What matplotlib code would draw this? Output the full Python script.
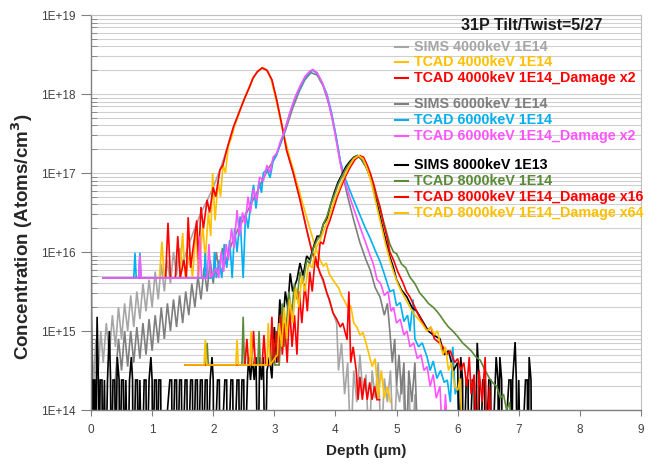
import matplotlib
matplotlib.use("Agg")
import matplotlib.pyplot as plt
import numpy as np
from matplotlib.ticker import FixedLocator, FuncFormatter, NullFormatter
from matplotlib.lines import Line2D

plt.rcParams['font.family'] = ['Liberation Sans', 'DejaVu Sans']

# ---------------- data (depth in um, log10 concentration) ----------------
sims4000_x = [0.00, 0.04, 0.08, 0.12, 0.16, 0.20, 0.25, 0.30, 0.35, 0.40, 0.45, 0.50, 0.55, 0.60, 0.65, 0.70,
              0.75, 0.80, 0.85, 0.90, 0.95, 1.00, 1.05, 1.10, 1.15, 1.20, 1.25, 1.30, 1.35, 1.40, 1.45, 1.50,
              1.60, 1.70, 1.80, 1.90, 2.00, 2.11, 2.22, 2.33, 2.44, 2.55, 2.65, 2.72, 2.80, 2.88, 2.96, 3.04,
              3.13, 3.20, 3.31, 3.42, 3.53, 3.62, 3.75, 3.86, 3.96, 4.02, 4.05, 4.10, 4.15, 4.20, 4.25, 4.30,
              4.35, 4.40, 4.45, 4.50, 4.55, 4.60, 4.65, 4.70, 4.75, 4.80, 4.85, 4.90, 4.95, 5.00, 5.05, 5.10,
              5.15, 5.20, 5.25, 5.30, 5.35]
sims4000_log = [15.2, 14.3, 14.9, 14.5, 15.0, 14.6, 15.1, 14.7, 15.2, 14.8, 15.3, 14.9, 15.35, 15.0, 15.45, 15.05,
                15.5, 15.15, 15.6, 15.25, 15.65, 15.3, 15.75, 15.4, 15.85, 15.5, 15.9, 15.6, 16.0, 15.7, 16.05, 15.85,
                16.1, 16.3, 16.5, 16.65, 16.82, 17.04, 17.29, 17.58, 17.8, 18.01, 18.2, 18.28, 18.33, 18.3, 18.18, 17.92,
                17.58, 17.29, 17.0, 16.66, 16.28, 15.99, 15.73, 15.48, 15.23, 15.1, 14.5, 14.85, 14.2, 14.6, 13.5, 14.5,
                14.1, 14.7, 14.2, 14.45, 13.5, 14.5, 14.15, 14.6, 13.5, 14.4, 14.1, 14.5, 13.5, 14.3, 14.1, 14.45,
                13.5, 14.3, 13.5, 14.2, 13.5]

tcad4000_x = [0.20, 1.12, 1.16, 1.20, 1.45, 1.50, 1.54, 1.62, 1.66, 1.72, 1.76, 1.83, 1.87, 1.92, 1.96, 1.99,
              2.03, 2.08, 2.12, 2.16, 2.20, 2.25, 2.30, 2.35, 2.40, 2.45, 2.50, 2.55, 2.60, 2.65, 2.70, 2.75,
              2.80, 2.85, 2.90, 2.95, 3.00, 3.05, 3.10, 3.15, 3.20, 3.25, 3.30, 3.35, 3.40, 3.45, 3.50, 3.55,
              3.60, 3.65, 3.70, 3.75, 3.80, 3.85, 3.90, 3.95, 4.00, 4.05, 4.10, 4.15, 4.20, 4.25, 4.30, 4.35,
              4.40, 4.45, 4.50, 4.55, 4.60, 4.65, 4.70, 4.75, 4.80, 4.85, 4.90]
tcad4000_log = [15.67, 15.67, 16.13, 15.67, 15.67, 16.24, 15.67, 16.0, 15.67, 16.3, 15.67, 16.35, 15.9, 16.5, 16.2, 17.0,
                16.4, 16.9, 16.7, 17.1, 17.0, 17.35, 17.45, 17.6, 17.7, 17.82, 17.92, 18.02, 18.1, 18.2, 18.26, 18.3,
                18.33, 18.32, 18.27, 18.18, 18.02, 17.85, 17.67, 17.5, 17.35, 17.2, 17.07, 16.92, 16.8, 16.65, 16.52, 16.38,
                16.25, 16.12, 16.0, 15.9, 15.82, 15.86, 15.72, 15.66, 15.6, 15.55, 15.45, 15.38, 15.3, 15.32, 15.1, 15.05,
                14.95, 14.98, 14.85, 14.7, 14.55, 14.65, 14.15, 14.5, 14.15, 14.3, 14.1]

tcad4000d_x = [0.20, 1.22, 1.26, 1.30, 1.38, 1.42, 1.46, 1.52, 1.56, 1.59, 1.63, 1.68, 1.73, 1.76, 1.80, 1.84,
               1.90, 1.94, 2.00, 2.04, 2.11, 2.16, 2.22, 2.28, 2.33, 2.38, 2.44, 2.50, 2.55, 2.60, 2.65, 2.72,
               2.80, 2.88, 2.96, 3.04, 3.13, 3.20, 3.31, 3.42, 3.53, 3.62, 3.68, 3.75, 3.80, 3.86, 3.90, 3.96,
               4.02, 4.08, 4.12, 4.19, 4.22, 4.25, 4.29, 4.34, 4.37, 4.40, 4.44, 4.48, 4.52, 4.56, 4.60, 4.64,
               4.68, 4.72]
tcad4000d_log = [15.67, 15.67, 16.37, 15.67, 15.67, 16.2, 15.67, 15.9, 15.67, 16.44, 15.8, 16.1, 16.4, 15.9, 16.57, 16.3,
                 16.66, 16.5, 16.82, 16.7, 17.04, 17.1, 17.29, 17.45, 17.58, 17.68, 17.8, 17.92, 18.01, 18.1, 18.2, 18.28,
                 18.33, 18.3, 18.18, 17.92, 17.58, 17.29, 17.0, 16.66, 16.28, 15.99, 15.9, 15.73, 15.65, 15.48, 15.4, 15.23,
                 15.15, 15.05, 15.1, 14.89, 15.5, 14.6, 14.8, 14.5, 14.13, 14.42, 14.13, 14.4, 14.13, 14.35, 14.13, 14.3,
                 14.13, 14.13]

sims6000_x = [0.40, 0.45, 0.50, 0.55, 0.60, 0.65, 0.70, 0.75, 0.80, 0.85, 0.90, 0.95, 1.00, 1.05, 1.10, 1.15,
              1.20, 1.25, 1.30, 1.35, 1.40, 1.45, 1.50, 1.55, 1.60, 1.65, 1.70, 1.75, 1.80, 1.85, 1.90, 1.95,
              2.00, 2.05, 2.10, 2.15, 2.20, 2.30, 2.40, 2.50, 2.60, 2.70, 2.80, 2.90, 3.00, 3.10, 3.20, 3.30,
              3.40, 3.50, 3.60, 3.70, 3.80, 3.90, 4.00, 4.10, 4.20, 4.30, 4.40, 4.50, 4.57, 4.65, 4.73, 4.80,
              4.85, 4.89, 4.93, 4.97, 5.00, 5.04, 5.08, 5.12, 5.16, 5.20, 5.25, 5.30, 5.35]
sims6000_log = [14.4, 14.9, 14.5, 15.0, 14.55, 15.0, 14.6, 15.05, 14.65, 15.1, 14.7, 15.15, 14.75, 15.2, 14.85, 15.3,
                14.9, 15.35, 15.0, 15.4, 15.05, 15.45, 15.1, 15.5, 15.2, 15.6, 15.3, 15.7, 15.4, 15.8, 15.5, 15.9,
                15.6, 16.0, 15.75, 16.05, 15.85, 16.1, 16.28, 16.42, 16.58, 16.73, 16.9, 17.05, 17.18, 17.36, 17.58, 17.82,
                18.02, 18.18, 18.27, 18.24, 18.1, 17.85, 17.5, 17.05, 16.7, 16.4, 16.12, 15.9, 15.77, 15.55, 15.43, 15.2,
                15.35, 15.0, 14.6, 14.9, 14.3, 14.7, 14.2, 14.6, 13.5, 14.5, 14.1, 14.6, 13.5]

tcad6000_x = [0.20, 0.70, 0.72, 0.74, 0.78, 0.80, 0.82, 1.85, 1.87, 1.89, 2.00, 2.02, 2.05, 2.10, 2.14, 2.18,
              2.22, 2.27, 2.31, 2.35, 2.39, 2.44, 2.49, 2.53, 2.57, 2.62, 2.66, 2.70, 2.75, 2.79, 2.82, 2.88,
              2.93, 2.98, 3.04, 3.10, 3.15, 3.20, 3.26, 3.34, 3.42, 3.50, 3.58, 3.63, 3.70, 3.78, 3.86, 3.94,
              4.02, 4.08, 4.15, 4.24, 4.32, 4.40, 4.48, 4.57, 4.65, 4.73, 4.80, 4.89, 4.95, 5.00, 5.06, 5.12,
              5.18, 5.22, 5.27, 5.30, 5.36, 5.42, 5.50, 5.55, 5.60, 5.66, 5.72, 5.78, 5.83, 5.88, 5.92, 5.96,
              6.00, 6.04]
tcad6000_log = [15.67, 15.67, 15.99, 15.67, 15.67, 15.99, 15.67, 15.67, 15.99, 15.67, 15.67, 16.0, 15.67, 15.9, 15.67, 16.1,
                15.8, 16.15, 15.67, 16.3, 16.0, 16.45, 15.67, 16.5, 16.3, 16.65, 16.85, 16.55, 16.9, 16.75, 17.0, 17.05,
                16.94, 17.15, 17.23, 17.38, 17.48, 17.62, 17.77, 17.95, 18.08, 18.2, 18.28, 18.3, 18.26, 18.15, 18.0, 17.75,
                17.42, 17.15, 16.95, 16.77, 16.62, 16.47, 16.32, 16.17, 16.02, 15.88, 15.72, 15.5, 15.52, 15.32, 15.36, 15.12,
                15.2, 15.0, 15.4, 14.9, 14.8, 14.85, 14.67, 14.5, 14.62, 14.4, 14.5, 14.35, 14.38, 14.1, 14.8, 14.2,
                14.3, 13.5]

tcad6000d_x = [0.20, 0.78, 0.80, 0.82, 1.75, 1.78, 1.81, 1.90, 1.93, 1.96, 2.05, 2.09, 2.13, 2.17, 2.21, 2.25,
               2.30, 2.34, 2.39, 2.43, 2.48, 2.52, 2.57, 2.61, 2.66, 2.71, 2.76, 2.82, 2.88, 2.93, 2.98, 3.04,
               3.10, 3.15, 3.20, 3.26, 3.34, 3.42, 3.50, 3.58, 3.63, 3.70, 3.78, 3.86, 3.94, 4.02, 4.08, 4.15,
               4.24, 4.32, 4.40, 4.48, 4.57, 4.62, 4.68, 4.74, 4.80, 4.86, 4.91, 4.95, 5.00, 5.06, 5.12, 5.17,
               5.22, 5.28, 5.34, 5.40, 5.45, 5.50, 5.55, 5.60, 5.65, 5.71, 5.76, 5.80, 5.85]
tcad6000d_log = [15.67, 15.67, 15.96, 15.67, 15.67, 16.2, 15.67, 15.67, 16.1, 15.67, 15.8, 15.67, 16.0, 15.75, 16.1, 15.9,
                 16.3, 16.05, 16.53, 16.2, 16.5, 16.35, 16.7, 16.5, 16.8, 16.65, 16.95, 16.9, 17.1, 17.0, 17.2, 17.25,
                 17.4, 17.5, 17.62, 17.78, 17.96, 18.1, 18.22, 18.29, 18.31, 18.27, 18.15, 17.98, 17.72, 17.38, 17.12, 16.9,
                 16.68, 16.5, 16.32, 16.15, 15.95, 15.85, 15.65, 15.6, 15.45, 15.5, 15.25, 15.3, 15.1, 15.15, 14.95, 15.0,
                 14.8, 14.85, 14.65, 14.7, 14.5, 14.55, 14.3, 14.45, 14.15, 14.3, 13.5, 14.2, 13.5]

sims8000_x = [0.00, 0.02, 0.04, 0.06, 0.07, 0.10, 0.12, 0.13, 0.15, 0.18, 0.19, 0.22, 0.24, 0.27, 0.30, 0.32,
              0.33, 0.36, 0.39, 0.40, 0.43, 0.46, 0.47, 0.50, 0.53, 0.54, 0.57, 0.60, 0.63, 0.66, 0.68, 0.69,
              0.73, 0.76, 0.77, 0.80, 0.83, 0.87, 0.90, 0.91, 0.95, 0.98, 1.00, 1.01, 1.04, 1.07, 1.08, 1.11,
              1.14, 1.15, 1.29, 1.32, 1.33, 1.37, 1.40, 1.41, 1.45, 1.48, 1.49, 1.54, 1.57, 1.58, 1.63, 1.66,
              1.67, 1.71, 1.74, 1.75, 1.79, 1.82, 1.83, 1.87, 1.90, 1.91, 1.95, 1.98, 2.00, 2.01, 2.07, 2.10,
              2.11, 2.19, 2.22, 2.23, 2.29, 2.32, 2.33, 2.39, 2.42, 2.43, 2.47, 2.50, 2.51, 2.56, 2.58, 2.61,
              2.64, 2.67, 2.70, 2.73, 2.76, 2.79, 2.82, 2.85, 2.88, 2.92, 2.96, 3.00, 3.04, 3.09, 3.13, 3.18,
              3.22, 3.26, 3.30, 3.37, 3.42, 3.47, 3.53, 3.58, 3.64, 3.70, 3.75, 3.80, 3.86, 3.92, 3.98, 4.04,
              4.10, 4.17, 4.24, 4.30, 4.36, 4.42, 4.50, 4.57, 4.63, 4.68, 4.73, 4.78, 4.84, 4.89, 4.95, 5.00,
              5.08, 5.17, 5.25, 5.33, 5.43, 5.52, 5.60, 5.71, 5.78, 5.85, 5.93, 6.00, 6.03, 6.05, 6.08, 6.09,
              6.14, 6.17, 6.18, 6.24, 6.27, 6.28, 6.32, 6.35, 6.36, 6.41, 6.44, 6.45, 6.51, 6.54, 6.55, 6.63,
              6.66, 6.67, 6.69, 6.72, 6.73, 6.84, 6.87, 6.88, 6.90, 6.94, 6.96, 6.97, 7.00, 7.03, 7.11, 7.14,
              7.15, 7.17, 7.20, 7.21]
sims8000_log = [16.5, 13.0, 14.38, 14.38, 13.0, 15.18, 14.38, 13.0, 14.38, 14.38, 13.0, 14.38, 13.0, 14.38, 15.0, 14.38,
                13.0, 14.38, 14.38, 13.0, 14.67, 14.38, 13.0, 14.38, 14.38, 13.0, 14.38, 13.0, 14.38, 14.67, 14.38, 13.0,
                14.38, 14.38, 13.0, 14.38, 13.0, 14.38, 14.38, 13.0, 14.38, 14.67, 14.38, 13.0, 14.38, 14.38, 13.0, 14.38,
                14.38, 13.0, 14.38, 14.38, 13.0, 14.38, 14.38, 13.0, 14.38, 14.38, 13.0, 14.38, 14.38, 13.0, 14.38, 14.38,
                13.0, 14.38, 14.38, 13.0, 14.38, 14.38, 13.0, 14.38, 14.38, 13.0, 14.38, 14.67, 14.38, 13.0, 14.38, 14.38,
                13.0, 14.38, 14.38, 13.0, 14.38, 14.38, 13.0, 14.38, 14.38, 13.0, 14.38, 14.38, 13.0, 14.38, 14.67, 14.38,
                14.67, 14.38, 14.67, 13.0, 14.67, 14.38, 14.67, 13.0, 14.5, 14.67, 14.4, 15.05, 14.6, 15.4, 15.0, 15.5,
                15.3, 15.73, 15.5, 15.65, 15.86, 15.7, 15.95, 15.9, 16.06, 16.2, 16.2, 16.35, 16.42, 16.6, 16.75, 16.88,
                16.97, 17.08, 17.15, 17.2, 17.22, 17.18, 17.08, 16.95, 16.8, 16.62, 16.45, 16.28, 16.1, 15.94, 15.8, 15.65,
                15.52, 15.43, 15.3, 15.25, 15.12, 15.0, 14.95, 14.9, 14.7, 14.75, 14.5, 14.6, 13.0, 14.67, 14.38, 13.0,
                14.38, 14.38, 13.0, 14.38, 14.38, 13.0, 14.85, 14.38, 13.0, 14.38, 14.38, 13.0, 14.38, 14.38, 13.0, 14.67,
                14.38, 13.0, 14.67, 14.38, 13.0, 14.38, 14.38, 13.0, 14.38, 14.86, 14.38, 13.0, 14.38, 13.0, 14.38, 14.38,
                13.0, 14.67, 14.38, 13.0]

tcad8000_x = [1.54, 1.88, 1.90, 1.92, 2.47, 2.49, 2.51, 2.73, 2.75, 2.77, 2.95, 2.98, 3.01, 3.08, 3.13, 3.16,
              3.20, 3.24, 3.28, 3.33, 3.37, 3.42, 3.47, 3.53, 3.58, 3.64, 3.70, 3.75, 3.80, 3.86, 3.92, 3.98,
              4.04, 4.10, 4.17, 4.24, 4.30, 4.36, 4.42, 4.50, 4.57, 4.63, 4.68, 4.73, 4.80, 4.89, 4.95, 5.00,
              5.08, 5.15, 5.22, 5.30, 5.38, 5.45, 5.52, 5.60, 5.66, 5.71, 5.78, 5.85, 5.92, 6.00, 6.08, 6.15,
              6.22, 6.30, 6.37, 6.45, 6.52, 6.58, 6.64, 6.70, 6.75, 6.80, 6.85, 6.90]
tcad8000_log = [14.57, 14.57, 14.85, 14.57, 14.57, 15.18, 14.57, 14.57, 15.0, 14.57, 14.57, 14.9, 14.57, 14.57, 15.35, 14.8,
                15.1, 15.5, 15.2, 15.6, 15.4, 15.75, 15.6, 15.9, 15.85, 16.05, 16.15, 16.2, 16.35, 16.45, 16.6, 16.72,
                16.85, 16.95, 17.05, 17.13, 17.19, 17.22, 17.18, 17.08, 16.95, 16.8, 16.68, 16.55, 16.35, 16.1, 16.0, 15.98,
                15.85, 15.8, 15.68, 15.6, 15.48, 15.42, 15.35, 15.3, 15.25, 15.2, 15.12, 15.05, 15.0, 14.93, 14.85, 14.8,
                14.75, 14.67, 14.63, 14.5, 14.4, 14.34, 14.3, 14.15, 14.2, 14.0, 14.1, 13.5]

tcad8000d16_x = [1.54, 2.52, 2.55, 2.58, 2.63, 2.66, 2.69, 2.80, 2.83, 2.86, 2.93, 2.96, 2.99, 3.03, 3.06, 3.10,
                 3.13, 3.17, 3.21, 3.25, 3.29, 3.33, 3.37, 3.41, 3.45, 3.50, 3.54, 3.58, 3.62, 3.67, 3.71, 3.75,
                 3.80, 3.86, 3.91, 3.97, 4.03, 4.08, 4.16, 4.24, 4.32, 4.40, 4.46, 4.52, 4.57, 4.63, 4.68, 4.73,
                 4.79, 4.84, 4.89, 4.95, 5.02, 5.10, 5.16, 5.22, 5.30, 5.36, 5.43, 5.50, 5.56, 5.62, 5.70, 5.76,
                 5.82, 5.88, 5.95, 6.00, 6.05, 6.10, 6.15, 6.19, 6.22, 6.27, 6.31, 6.35, 6.40, 6.45, 6.48, 6.52,
                 6.56]
tcad8000d16_log = [14.57, 14.57, 14.9, 14.57, 14.57, 15.0, 14.57, 14.57, 14.95, 14.57, 14.57, 15.18, 14.6, 15.0, 14.6, 15.2,
                   14.7, 15.1, 14.6, 15.3, 14.8, 15.2, 14.7, 15.5, 15.1, 15.6, 15.25, 15.75, 15.5, 15.95, 15.8, 16.13,
                   16.1, 16.3, 16.4, 16.55, 16.7, 16.8, 16.95, 17.07, 17.17, 17.22, 17.2, 17.1, 17.0, 16.85, 16.7, 16.57,
                   16.35, 16.2, 16.0, 15.9, 15.75, 15.62, 15.5, 15.43, 15.3, 15.2, 15.1, 15.0, 15.05, 14.9, 14.85, 14.8,
                   14.7, 14.75, 14.6, 14.65, 14.5, 14.6, 14.3, 14.67, 14.2, 14.45, 13.5, 14.5, 14.1, 14.67, 13.5, 14.3,
                   13.5]

tcad8000d64_x = [1.54, 1.85, 1.87, 1.89, 2.37, 2.39, 2.41, 2.60, 2.62, 2.64, 2.88, 2.90, 2.93, 3.05, 3.08, 3.12,
                 3.16, 3.20, 3.25, 3.30, 3.35, 3.40, 3.45, 3.50, 3.56, 3.62, 3.68, 3.75, 3.82, 3.90, 3.98, 4.06,
                 4.14, 4.22, 4.30, 4.38, 4.45, 4.52, 4.58, 4.64, 4.70, 4.76, 4.82, 4.89, 4.95, 5.02, 5.08, 5.15,
                 5.22, 5.30, 5.36, 5.43, 5.50, 5.56, 5.62, 5.67, 5.71, 5.76, 5.80, 5.85, 5.90, 5.95, 6.00, 6.04,
                 6.08]
tcad8000d64_log = [14.57, 14.57, 14.89, 14.57, 14.57, 14.89, 14.57, 14.57, 15.0, 14.57, 14.57, 15.1, 14.57, 14.7, 15.1, 14.8,
                   15.3, 14.9, 15.4, 15.1, 15.55, 15.3, 15.7, 15.5, 15.85, 15.8, 16.05, 16.15, 16.3, 16.45, 16.65, 16.8,
                   16.95, 17.08, 17.18, 17.22, 17.18, 17.05, 16.9, 16.7, 16.5, 16.3, 16.1, 15.9, 15.75, 15.6, 15.5, 15.4,
                   15.3, 15.2, 15.15, 15.08, 15.0, 15.05, 14.95, 15.0, 14.85, 14.7, 14.8, 14.5, 14.6, 14.3, 14.25, 14.4,
                   13.5]

labels = ["SIMS 4000keV 1E14", "TCAD 4000keV 1E14", "TCAD 4000keV 1E14_Damage x2",
          "SIMS 6000keV 1E14", "TCAD 6000keV 1E14", "TCAD 6000keV 1E14_Damage x2",
          "SIMS 8000keV 1E13", "TCAD 8000keV 1E14", "TCAD 8000keV 1E14_Damage x16",
          "TCAD 8000keV 1E14_Damage x64"]
colors = ["#A6A6A6", "#FFC000", "#FF0000", "#7F7F7F", "#00B0F0", "#FF55FF",
          "#000000", "#5A8A35", "#FF0000", "#FFC000"]
series = [(sims4000_x, sims4000_log), (tcad4000_x, tcad4000_log), (tcad4000d_x, tcad4000d_log),
          (sims6000_x, sims6000_log), (tcad6000_x, tcad6000_log), (tcad6000d_x, tcad6000d_log),
          (sims8000_x, sims8000_log), (tcad8000_x, tcad8000_log), (tcad8000d16_x, tcad8000d16_log),
          (tcad8000d64_x, tcad8000d64_log)]

title_text = "31P Tilt/Twist=5/27"
xticks = [0, 1, 2, 3, 4, 5, 6, 7, 8, 9]
ytick_exps = [14, 15, 16, 17, 18, 19]

# ---------------- figure ----------------
W, H = 657, 465
fig = plt.figure(figsize=(W / 100, H / 100), dpi=100)
ax = fig.add_axes([91 / W, 1 - 410 / H, (641 - 91) / W, (410 - 15) / H])

for (xs, ls), c in zip(series, colors):
    ax.plot(xs, 10 ** np.array(ls), color=c, lw=1.2, solid_joinstyle='miter')

ax.set_yscale('log')
ax.set_ylim(1e14, 1e19)
ax.set_xlim(0, 9)

ax.yaxis.set_major_locator(FixedLocator([10.0 ** e for e in ytick_exps]))
ax.yaxis.set_major_formatter(FuncFormatter(lambda v, p: "1E+%d" % round(np.log10(v))))
minors = [m * 10.0 ** e for e in ytick_exps[:-1] for m in range(2, 10)]
ax.yaxis.set_minor_locator(FixedLocator(minors))
ax.yaxis.set_minor_formatter(NullFormatter())
ax.set_xticks(xticks)
ax.set_xticklabels([str(t) for t in xticks])

ax.grid(True, which='both', axis='y', color='#CFCFCF', lw=0.8)
ax.set_axisbelow(True)

for s in ['left', 'bottom']:
    ax.spines[s].set_color('#808080')
    ax.spines[s].set_linewidth(1.0)
for s in ['top', 'right']:
    ax.spines[s].set_color('#BFBFBF')
    ax.spines[s].set_linewidth(0.8)

ax.tick_params(axis='y', which='major', direction='out', length=7, width=0.8, color='#808080',
               labelsize=8.5, labelcolor='#404040', pad=4)
ax.tick_params(axis='y', which='minor', direction='in', length=4, width=0.6, color='#808080')
ax.tick_params(axis='x', which='major', direction='out', length=4, width=0.8, color='#808080',
               labelsize=8.5, labelcolor='#404040', pad=6)

ax.set_xlabel("Depth (\u00b5m)", fontsize=11, fontweight='bold', color='#262626', labelpad=6)
fig.text(22 / W, 1 - 237 / H, "Concentration (Atoms/cm$^\\mathbf{3}$)", fontsize=13.5, fontweight='bold',
         color='#262626', rotation=90, ha='center', va='center')

# title
fig.text(532 / W, 1 - 25 / H, title_text, fontsize=11.5, fontweight='bold', color='#1A1A1A',
         ha='center', va='center')

# legend (manual, colored bold text with short line)
leg_y = [47, 62, 78, 104, 120, 136, 165, 181, 197, 213]
for lab, c, y in zip(labels, colors, leg_y):
    fy = 1 - y / H
    fig.add_artist(Line2D([395 / W, 408 / W], [fy, fy], color=c, lw=1.5, transform=fig.transFigure))
    fig.text(414 / W, fy, lab, fontsize=10.3, fontweight='bold', color=c, ha='left', va='center')

fig.savefig("out.png", dpi=100, facecolor='white')
